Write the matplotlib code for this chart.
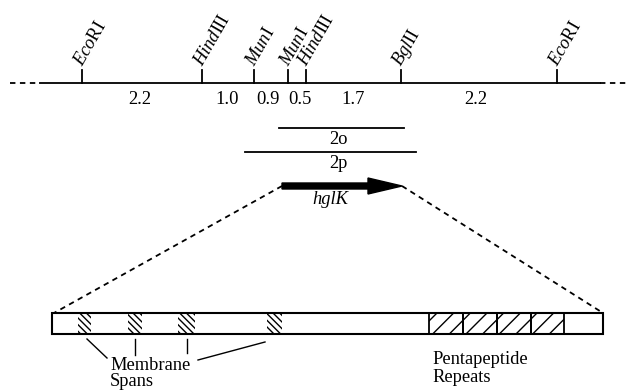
import matplotlib
matplotlib.use("Agg")
import matplotlib.pyplot as plt
from matplotlib.patches import Rectangle, FancyArrow

plt.rcParams['font.family'] = ['Liberation Serif', 'DejaVu Serif']
plt.rcParams['mathtext.fontset'] = 'custom'
plt.rcParams['mathtext.it'] = 'Liberation Serif:italic'
plt.rcParams['mathtext.rm'] = 'Liberation Serif'
plt.rcParams['hatch.linewidth'] = 1.0

# restriction map (positions along the map line)
sitios = [r'$\it{Eco}$RI', r'$\it{Hind}$III', r'$\it{Mun}$I', r'$\it{Mun}$I',
          r'$\it{Hind}$III', r'$\it{Bgl}$II', r'$\it{Eco}$RI']
posSitios = [82, 202, 254, 288, 306, 401, 557]
distancias = ['2.2', '1.0', '0.9', '0.5', '1.7', '2.2']
posDistancias = [140, 227, 268, 300, 353, 476]

# clones
clones = ['2o', '2p']
cloneInicio = [279, 245]
cloneFin = [404, 416]
cloneY = [128, 152]

# gene
genInicio = 282
genFin = 402

# protein
protInicio = 52
protFin = 603
membranas = [(78, 91), (128, 142), (178, 195), (267, 282)]
repeticiones = [429, 463, 497, 531, 564]

Y_MAPA = 83
Y_BARRA = 313
ALTO_BARRA = 21
FS = 13.3

fig = plt.figure(figsize=(6.29, 3.9), dpi=100)
ax = fig.add_axes([0, 0, 1, 1])
ax.set_xlim(0, 629)
ax.set_ylim(390, 0)
ax.axis('off')

# map line
ax.plot([40, 600], [Y_MAPA, Y_MAPA], color='black', lw=1.3)
ax.plot([10, 40], [Y_MAPA, Y_MAPA], color='black', lw=1.3, ls=(0, (3, 2.5)))
ax.plot([600, 629], [Y_MAPA, Y_MAPA], color='black', lw=1.3, ls=(0, (3, 2.5)))

for nombre, x in zip(sitios, posSitios):
    ax.plot([x, x], [Y_MAPA, Y_MAPA - 13], color='black', lw=1.3)
    ax.text(x - 4, Y_MAPA - 18, nombre, rotation=60, rotation_mode='anchor',
            ha='left', va='center', fontsize=FS)

for d, x in zip(distancias, posDistancias):
    ax.text(x, 100, d, ha='center', va='center', fontsize=FS)

for nombre, x0, x1, y in zip(clones, cloneInicio, cloneFin, cloneY):
    ax.plot([x0, x1], [y, y], color='black', lw=1.3)
    ax.text(338, y + 11, nombre, ha='center', va='center', fontsize=FS)

# gene arrow
ax.add_patch(FancyArrow(genInicio, 186, genFin - genInicio, 0, width=6,
                        head_width=16, head_length=34, length_includes_head=True,
                        color='black'))
ax.text(330, 200, 'hglK', style='italic', ha='center', va='center', fontsize=FS)

# zoom lines
ax.plot([genInicio, protInicio + 2], [186, Y_BARRA], color='black', lw=1.3, ls=(0, (3, 2.5)))
ax.plot([genFin, protFin], [186, Y_BARRA], color='black', lw=1.3, ls=(0, (3, 2.5)))

# protein bar
ax.add_patch(Rectangle((protInicio, Y_BARRA), protFin - protInicio, ALTO_BARRA,
                       fill=False, edgecolor='black', lw=1.5))
for x0, x1 in membranas:
    ax.add_patch(Rectangle((x0, Y_BARRA + 1), x1 - x0, ALTO_BARRA - 2,
                           fill=False, hatch='\\\\\\\\\\', edgecolor='black', lw=0))
for x0, x1 in zip(repeticiones[:-1], repeticiones[1:]):
    ax.add_patch(Rectangle((x0, Y_BARRA), x1 - x0, ALTO_BARRA,
                           fill=False, hatch='//', edgecolor='black', lw=1.3))

# labels
ax.text(110, 365, 'Membrane', ha='left', va='center', fontsize=FS)
ax.text(110, 382, 'Spans', ha='left', va='center', fontsize=FS)
ax.plot([87, 107], [339, 358], color='black', lw=1)
ax.plot([135, 135], [339, 355], color='black', lw=1)
ax.plot([187, 187], [339, 353], color='black', lw=1)
ax.plot([198, 265], [360, 342], color='black', lw=1)

ax.text(432, 360, 'Pentapeptide', ha='left', va='center', fontsize=FS)
ax.text(432, 378, 'Repeats', ha='left', va='center', fontsize=FS)

fig.savefig('out.png', dpi=100)
